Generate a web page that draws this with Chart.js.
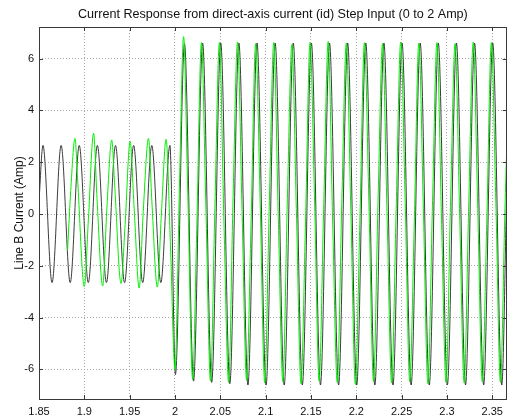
<!DOCTYPE html>
<html>
<head>
<meta charset="utf-8">
<script src="https://cdn.jsdelivr.net/npm/chart.js@4/dist/chart.umd.min.js"></script>
<style>
  html, body { margin: 0; padding: 0; background: #ffffff; }
  canvas { display: block; }
</style>
</head>
<body>
<canvas id="chart" width="509" height="420"></canvas>
<script>
// Line B current: reference (black) and measured (green) around the id step at t = 2 s.
const chartTitle = 'Current Response from direct-axis current (id) Step Input (0 to 2 Amp)';
const yAxisTitle = 'Line B Current (Amp)';

const xTicks = [1.85, 1.9, 1.95, 2, 2.05, 2.1, 2.15, 2.2, 2.25, 2.3, 2.35];
const xTickLabels = ['1.85', '1.9', '1.95', '2', '2.05', '2.1', '2.15', '2.2', '2.25', '2.3', '2.35'];
const yTicks = [-6, -4, -2, 0, 2, 4, 6];
const yTickLabels = ['-6', '-4', '-2', '0', '2', '4', '6'];

// Reference current: peaks and troughs of each cycle (s, A)
const refTime = [
  1.8500, 1.8544, 1.8644, 1.8744, 1.8844, 1.8944, 1.9044, 1.9144, 1.9244,
  1.9344, 1.9444, 1.9544, 1.9644, 1.9744, 1.9844, 1.9944,
  2.0005,
  2.0105, 2.0205, 2.0305, 2.0405, 2.0505, 2.0605, 2.0705, 2.0805, 2.0905, 2.1005,
  2.1105, 2.1205, 2.1305, 2.1405, 2.1505, 2.1605, 2.1705, 2.1805, 2.1905, 2.2005,
  2.2105, 2.2205, 2.2305, 2.2405, 2.2505, 2.2605, 2.2705, 2.2805, 2.2905, 2.3005,
  2.3105, 2.3205, 2.3305, 2.3405, 2.3505, 2.3605, 2.3660
];
const refCurrent = [
  0.50, 2.65, -2.65, 2.65, -2.65, 2.65, -2.65, 2.65, -2.65,
  2.65, -2.65, 2.65, -2.65, 2.65, -2.65, 2.65,
  -6.20,
  6.58, -6.45, 6.60, -6.50, 6.60, -6.55, 6.60, -6.60, 6.60, -6.60,
  6.60, -6.60, 6.60, -6.60, 6.60, -6.60, 6.60, -6.60, 6.60, -6.60,
  6.60, -6.60, 6.60, -6.60, 6.60, -6.60, 6.60, -6.60, 6.60, -6.60,
  6.60, -6.60, 6.60, -6.60, 6.60, -6.60, 1.00
];

// Measured current (s, A)
const measTime = [
  1.8815, 1.8850, 1.8897, 1.8925, 1.9000, 1.9045, 1.9102, 1.9140, 1.9202,
  1.9250, 1.9302, 1.9335, 1.9405, 1.9450, 1.9505, 1.9550, 1.9605, 1.9650,
  1.9708, 1.9745, 1.9805, 1.9850, 1.9902, 1.9950, 2.0000,
  2.0050, 2.0095, 2.0140, 2.0195, 2.0240, 2.0292, 2.0340, 2.0392, 2.0440,
  2.0490, 2.0540, 2.0592, 2.0640, 2.0690, 2.0740, 2.0790, 2.0840, 2.0890,
  2.0940, 2.0990, 2.1040, 2.1090, 2.1140, 2.1190, 2.1240, 2.1290, 2.1340,
  2.1390, 2.1440, 2.1490, 2.1540, 2.1590, 2.1640, 2.1690, 2.1740, 2.1790,
  2.1840, 2.1890, 2.1940, 2.1990, 2.2040, 2.2090, 2.2140, 2.2190, 2.2240,
  2.2290, 2.2340, 2.2390, 2.2440, 2.2490, 2.2540, 2.2590, 2.2640, 2.2690,
  2.2740, 2.2790, 2.2840, 2.2890, 2.2940, 2.2990, 2.3040, 2.3090, 2.3140,
  2.3190, 2.3240, 2.3290, 2.3340, 2.3390, 2.3440, 2.3490, 2.3540, 2.3590,
  2.3640, 2.3660
];
const measCurrent = [
  -1.40, 0.90, 2.92, 1.40, -2.80, -0.20, 3.12, 0.60, -2.78,
  0.30, 2.86, 1.10, -2.68, -0.40, 2.80, 0.20, -2.86, 0.10,
  2.92, 0.50, -2.82, 0.00, 2.88, -1.20, -6.00,
  1.20, 6.85, 1.00, -6.38, -0.60, 6.62, 0.40, -6.45, 0.20,
  6.62, -0.30, -6.50, 0.50, 6.64, 0.10, -6.42, -0.20, 6.58,
  0.40, -6.52, 0.30, 6.62, -0.20, -6.48, 0.60, 6.55, 0.00,
  -6.55, -0.30, 6.62, 0.50, -6.45, 0.20, 6.66, -0.40, -6.50,
  0.40, 6.60, 0.10, -6.58, -0.20, 6.62, 0.30, -6.46, 0.50,
  6.58, -0.10, -6.52, 0.20, 6.64, 0.40, -6.48, -0.30, 6.60,
  0.20, -6.55, 0.30, 6.62, -0.20, -6.50, 0.50, 6.58, 0.00,
  -6.52, 0.30, 6.64, 0.20, -6.47, -0.20, 6.62, 0.40, -6.50,
  0.20, 2.60
];

const FONT = '"Liberation Sans", Arial, Helvetica, sans-serif';

// Axes box, inward tick marks and the centred title
const axesFrame = {
  id: 'axesFrame',
  afterDatasetsDraw(chart) {
    const { ctx, chartArea: a, scales } = chart;
    ctx.save();
    ctx.strokeStyle = '#3a3a3a';
    ctx.lineWidth = 1;
    ctx.beginPath();
    const tl = 4;
    xTicks.forEach(v => {
      const px = Math.round(scales.x.getPixelForValue(v)) + 0.5;
      ctx.moveTo(px, a.bottom); ctx.lineTo(px, a.bottom - tl);
      ctx.moveTo(px, a.top); ctx.lineTo(px, a.top + tl);
    });
    yTicks.forEach(v => {
      const py = Math.round(scales.y.getPixelForValue(v)) + 0.5;
      ctx.moveTo(a.left, py); ctx.lineTo(a.left + tl, py);
      ctx.moveTo(a.right, py); ctx.lineTo(a.right - tl, py);
    });
    ctx.stroke();
    ctx.strokeRect(Math.round(a.left) + 0.5, Math.round(a.top) + 0.5,
                   Math.round(a.right - a.left) - 1, Math.round(a.bottom - a.top));
    ctx.fillStyle = '#111';
    ctx.font = '12.6px ' + FONT;
    ctx.textAlign = 'center';
    ctx.textBaseline = 'middle';
    ctx.fillText(chartTitle, (a.left + a.right) / 2, 15);
    ctx.restore();
  }
};

new Chart(document.getElementById('chart'), {
  type: 'line',
  data: {
    datasets: [
      {
        label: 'Reference',
        data: refTime.map((t, i) => ({ x: t, y: refCurrent[i] })),
        borderColor: '#3c3c3c',
        borderWidth: 1,
        pointRadius: 0,
        cubicInterpolationMode: 'monotone',
        order: 2
      },
      {
        label: 'Measured',
        data: measTime.map((t, i) => ({ x: t, y: measCurrent[i] })),
        borderColor: '#00ee00',
        borderWidth: 1,
        pointRadius: 0,
        cubicInterpolationMode: 'monotone',
        order: 1
      }
    ]
  },
  options: {
    responsive: false,
    animation: false,
    devicePixelRatio: 1,
    layout: { padding: { left: 0, right: 1, top: 27, bottom: 0 } },
    plugins: {
      legend: { display: false },
      tooltip: { enabled: false },
      title: { display: false }
    },
    scales: {
      x: {
        type: 'linear',
        min: 1.85,
        max: 2.366,
        afterBuildTicks: s => { s.ticks = xTicks.map(v => ({ value: v })); },
        afterFit: s => { s.height = 21; },
        grid: { color: '#a8a8a8', drawTicks: false },
        border: { display: false, dash: [1, 2] },
        ticks: {
          padding: 6,
          color: '#111',
          font: { family: FONT, size: 11 },
          maxRotation: 0,
          autoSkip: false,
          callback: v => xTickLabels[xTicks.indexOf(v)] ?? ''
        }
      },
      y: {
        type: 'linear',
        min: -7.14,
        max: 7.22,
        afterBuildTicks: s => { s.ticks = yTicks.map(v => ({ value: v })); },
        afterFit: s => { s.width = 39; },
        grid: { color: '#a8a8a8', drawTicks: false },
        border: { display: false, dash: [1, 2] },
        title: {
          display: true,
          text: yAxisTitle,
          color: '#111',
          font: { family: FONT, size: 12 },
          padding: { top: 12.5, bottom: 0 }
        },
        ticks: {
          padding: 5,
          color: '#111',
          font: { family: FONT, size: 11 },
          autoSkip: false,
          callback: v => yTickLabels[yTicks.indexOf(v)] ?? ''
        }
      }
    }
  },
  plugins: [axesFrame]
});
</script>
</body>
</html>
